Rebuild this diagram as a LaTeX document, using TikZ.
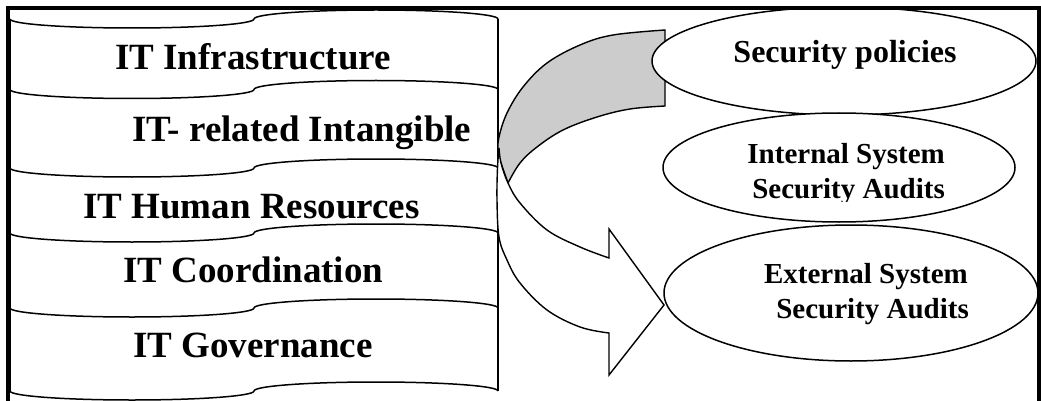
\documentclass[tikz,border=0pt]{standalone}
\usepackage{fontspec}
\setmainfont{Liberation Serif}
\usetikzlibrary{shapes.geometric}
\definecolor{backshade}{RGB}{204,204,204}

% one wavy seam of the stacked tape: a half ellipse down, then a half ellipse up
\newcommand\tapewave[1]{%
  \draw[tapeline] (10,#1)
    .. controls (10,#1+5) and (64.6,#1+9) .. (132,#1+9)
    .. controls (199.4,#1+9) and (254,#1+5) .. (254,#1)
    .. controls (254,#1-5) and (308.6,#1-9) .. (376,#1-9)
    .. controls (443.4,#1-9) and (498,#1-5) .. (498,#1);}

\begin{document}
\begin{tikzpicture}[x=1pt,y=-1pt,
  tapeline/.style={line width=1.5pt},
  arrowline/.style={line width=1.4pt, line join=miter},
  bubble/.style={ellipse, draw, line width=1.5pt, fill=white, inner sep=0pt},
  bandtext/.style={inner sep=0pt, anchor=base west, font=\fontsize{37}{44}\selectfont\bfseries},
  bigtext/.style={inner sep=0pt, font=\fontsize{32}{38}\selectfont\bfseries},
  smalltext/.style={inner sep=0pt, anchor=base east, font=\fontsize{29}{34}\selectfont\bfseries},
  frameline/.style={line width=3.5pt}]
\useasboundingbox (0,0) rectangle (1041,401);

% stacked tape bands
\tapewave{19}
\tapewave{89.5}
\tapewave{168}
\tapewave{233}
\tapewave{308}
\tapewave{391}
\draw[tapeline] (10,19) -- (10,391);
\draw[tapeline] (498,19) -- (498,391);

\node[bandtext] (infra) at (115,70) {IT Infrastructure};
\node[bandtext] (intang) at (132,142) {IT- related Intangible};
\node[bandtext] (human) at (83,218) {IT Human Resources};
\node[bandtext] (coord) at (123,282) {IT Coordination};
\node[bandtext] (gov) at (133,357) {IT Governance};

% curved arrow: shaded back part
\filldraw[arrowline, fill=backshade]
  plot[smooth, tension=0.6] coordinates {(665,30) (613,35) (580,45) (547,63) (523,87) (507,113) (499,137) (498,153) (501,163) (508,183)}
  -- plot[smooth, tension=0.6] coordinates {(508,183) (520,163) (537,147) (563,130) (597,117) (630,109) (665,106)}
  -- cycle;
% curved arrow: front part with the head
\filldraw[arrowline, fill=white]
  plot[smooth, tension=0.6] coordinates {(499,148) (501,163) (508,183) (520,203) (547,230) (580,247) (609,258)}
  -- (609,229) -- (664,305) -- (609,375) -- (609,333)
  -- plot[smooth, tension=0.6] coordinates {(609,333) (580,327) (547,310) (520,283) (507,260) (499,237) (497,200) (497.5,168) (499,148)}
  -- cycle;

% the three ellipses
\node[bubble, minimum width=384pt, minimum height=108pt] (policies) at (844,61) {};
\node[bubble, minimum width=352pt, minimum height=109pt] (internal) at (839,167.5) {};
\node[bubble, minimum width=374pt, minimum height=136pt] (external) at (851,293) {};

\node[bigtext, anchor=base] (ptext) at (845,63) {Security policies};
\node[smalltext] (itext1) at (945,163) {Internal System};
\begin{scope}
  \clip (640,170) rectangle (1030,201);
  \node[smalltext] (itext2) at (945,198) {Security Audits};
\end{scope}
\node[smalltext] (etext1) at (968,283) {External System};
\node[smalltext] (etext2) at (969,318) {Security Audits};

% outer frame, open at the bottom
\draw[frameline] (8,401) -- (8,8) -- (1039,8) -- (1039,401);
\end{tikzpicture}
\end{document}
